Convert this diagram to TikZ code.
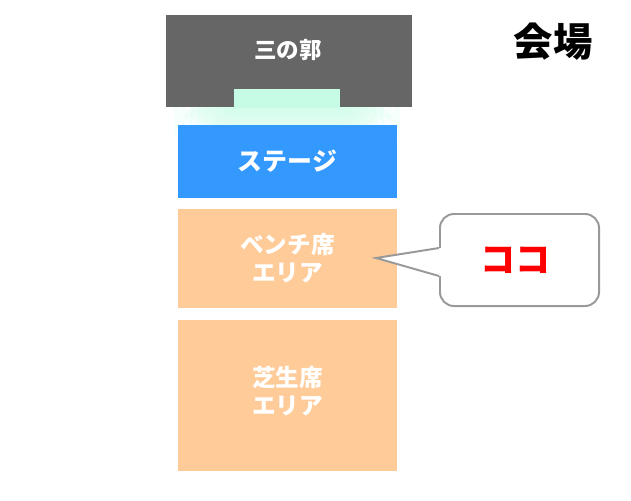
\documentclass[tikz,border=0pt]{standalone}
\usepackage{fontspec}
\setmainfont{Noto Sans CJK JP}
\usetikzlibrary{positioning}

\definecolor{castlegray}{HTML}{666666}
\definecolor{glowmint}{HTML}{C6FCE6}
\definecolor{stageblue}{HTML}{3399FF}
\definecolor{seatorange}{HTML}{FFCC99}
\definecolor{bubblegray}{HTML}{999999}

\begin{document}
\begin{tikzpicture}[
    x=0.025cm, y=-0.025cm,
    block/.style={rectangle, inner sep=0pt, align=center, text=white, font=\bfseries\fontsize{16.8pt}{20pt}\selectfont},
    area/.style={block, fill=seatorange, minimum width=5.475cm},
    bubble/.style={rectangle, rounded corners=0.35cm, draw=bubblegray, line width=1.4pt, fill=white, minimum width=3.975cm, minimum height=2.3cm}
  ]
  \useasboundingbox (0,0) rectangle (631,500);

  % 光（ミント色のぼかし）
  \foreach \r in {60,52,...,4}
    \fill[glowmint, opacity=0.16, rounded corners=\r*0.025cm] (234-\r,89) rectangle (340+\r,108+0.6*\r);

  % 三の郭とステージ
  \node[block, fill=castlegray, minimum width=6.15cm, minimum height=2.3cm] (castle) at (289,61) {};
  \node[block, font=\bfseries\fontsize{16pt}{18pt}\selectfont] (castlelabel) at (288,50) {三の郭};
  \node[block, fill=glowmint, minimum width=2.65cm, minimum height=0.47cm] (front) at (287,98.4) {};
  \node[block, fill=stageblue, minimum width=5.475cm, minimum height=1.825cm, font=\bfseries\fontsize{17.7pt}{20pt}\selectfont] (stage) at (287.5,161.5) {ステージ};

  % 客席エリア
  \node[area, minimum height=2.475cm] (bench) at (287.5,258.5) {ベンチ席\\エリア};
  \node[area, minimum height=3.775cm] (lawn) at (287.5,395.5) {};
  \node[block] (lawnlabel) at (287.5,391) {芝生席\\エリア};

  % 吹き出し
  \node[bubble] (here) at (519.5,260) {};
  \node[font=\bfseries\fontsize{25pt}{28pt}\selectfont, text=red] (herelabel) at ([xshift=-0.1cm]here.center) {ココ};
  \coordinate (tip) at (376,258);
  \fill[white] ([yshift=0.3cm]here.west) -- (tip) -- ([yshift=-0.4cm]here.west) -- ([xshift=0.1cm, yshift=-0.4cm]here.west) -- ([xshift=0.1cm, yshift=0.3cm]here.west) -- cycle;
  \draw[bubblegray, line width=1.4pt, line join=miter] ([yshift=0.3cm]here.west) -- (tip) -- ([yshift=-0.4cm]here.west);

  % タイトル
  \node[font=\bfseries\fontsize{28pt}{30pt}\selectfont] (title) at (553,42) {会場};
\end{tikzpicture}
\end{document}
